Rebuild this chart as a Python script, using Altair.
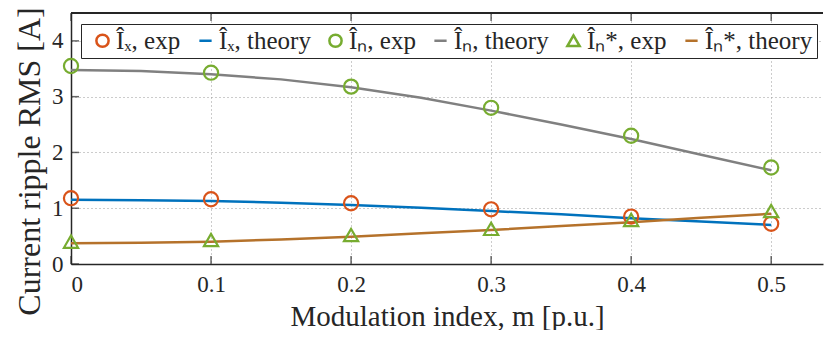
import altair as alt
import pandas as pd

# experimental points
m_exp = [0.0, 0.1, 0.2, 0.3, 0.4, 0.5]
ix_exp = [1.18, 1.16, 1.09, 0.98, 0.85, 0.72]
in_exp = [3.55, 3.43, 3.18, 2.80, 2.30, 1.73]
ins_exp = [0.40, 0.43, 0.52, 0.63, 0.79, 0.95]

# theory curves
m_th = [0.0, 0.05, 0.1, 0.15, 0.2, 0.25, 0.3, 0.35, 0.4, 0.45, 0.5]
ix_th = [1.15, 1.145, 1.13, 1.10, 1.06, 1.01, 0.95, 0.89, 0.82, 0.76, 0.70]
in_th = [3.48, 3.46, 3.40, 3.31, 3.17, 2.98, 2.75, 2.50, 2.24, 1.96, 1.68]
ins_th = [0.37, 0.38, 0.40, 0.44, 0.49, 0.55, 0.61, 0.68, 0.75, 0.83, 0.90]

names = ["Îₓ, exp", "Îₓ, theory", "Îₙ, exp", "Îₙ, theory", "Îₙ*, exp", "Îₙ*, theory"]
colors = ["#D95319", "#0072BD", "#77AC30", "#808080", "#77AC30", "#B5722B"]
shapes = ["circle", "stroke", "circle", "stroke", "triangle-up", "stroke"]
x_ticks = [0, 0.1, 0.2, 0.3, 0.4, 0.5]
y_ticks = [0, 1, 2, 3, 4]

rows = []
for v, a, b, c in zip(m_exp, ix_exp, in_exp, ins_exp):
    rows += [dict(m=v, val=a, s=names[0], kind="exp"),
             dict(m=v, val=b, s=names[2], kind="exp"),
             dict(m=v, val=c, s=names[4], kind="exp")]
for v, a, b, c in zip(m_th, ix_th, in_th, ins_th):
    rows += [dict(m=v, val=a, s=names[1], kind="th"),
             dict(m=v, val=b, s=names[3], kind="th"),
             dict(m=v, val=c, s=names[5], kind="th")]
df = pd.DataFrame(rows)
xt = pd.DataFrame({"m": x_ticks})
yt = pd.DataFrame({"val": y_ticks})

FONT = "Liberation Serif, Times New Roman, Times, Nimbus Roman, serif"
W, H = 752, 251
DARK = "#262626"

xsc = alt.Scale(domain=[0, 0.537], nice=False)
ysc = alt.Scale(domain=[0, 4.5], nice=False)
xs = alt.X("m:Q", scale=xsc,
           axis=alt.Axis(values=x_ticks, title="Modulation index, m [p.u.]", format=".1~f"))
ys = alt.Y("val:Q", scale=ysc,
           axis=alt.Axis(values=y_ticks, title="Current ripple RMS [A]", format="d"))
col = alt.Color("s:N", scale=alt.Scale(domain=names, range=colors),
                legend=alt.Legend(title=None, orient="none", direction="horizontal", columns=6,
                                  legendX=10, legendY=11, strokeColor=DARK, fillColor="white",
                                  padding=4, columnPadding=7, symbolSize=150, symbolStrokeWidth=2.5,
                                  labelFont=FONT, labelFontSize=25, labelColor=DARK,
                                  symbolOffset=5, labelOffset=1, labelLimit=300))
shp = alt.Shape("s:N", scale=alt.Scale(domain=names, range=shapes))

base = alt.Chart(df)
lines = base.transform_filter(alt.datum.kind == "th").mark_line(strokeWidth=2.5).encode(
    x=xs, y=ys, color=col, detail="s:N")
pts = base.transform_filter(alt.datum.kind == "exp").mark_point(
    filled=False, size=200, strokeWidth=2.2, opacity=1).encode(x=xs, y=ys, color=col, shape=shp)

# inward MATLAB-style ticks
xtick_b = alt.Chart(xt).mark_tick(orient="vertical", size=8, thickness=1.5, color=DARK).encode(
    x=alt.X("m:Q", scale=xsc), y=alt.value(H - 4))
xtick_t = alt.Chart(xt).mark_tick(orient="vertical", size=8, thickness=1.5, color=DARK).encode(
    x=alt.X("m:Q", scale=xsc), y=alt.value(4))
ytick_l = alt.Chart(yt).mark_tick(orient="horizontal", size=8, thickness=1.5, color=DARK).encode(
    y=alt.Y("val:Q", scale=ysc), x=alt.value(4))
topline = alt.Chart(xt).mark_rule(color=DARK, strokeWidth=1.5).encode(
    x=alt.value(0), x2=alt.value(W), y=alt.value(0))

chart = alt.layer(lines, pts, xtick_b, xtick_t, ytick_l, topline).properties(
    width=W, height=H, autosize=alt.AutoSizeParams(type="none"),
    padding={"left": 63, "top": 5, "right": 2, "bottom": 66}
).configure_view(stroke=None).configure_axis(
    labelFont=FONT, titleFont=FONT, labelFontSize=23, titleFontWeight="normal",
    labelColor=DARK, titleColor=DARK, domainColor=DARK, domainWidth=1.5,
    gridColor="#999999", gridDash=[1, 3], gridWidth=1, ticks=False
).configure_axisX(labelPadding=9, titleFontSize=29, titleBaseline="alphabetic", titleY=61
).configure_axisY(labelPadding=8, titleFontSize=32, titleBaseline="alphabetic",
                  titleX=-32, titleY=148)

chart.save("out.html", embed_options={"renderer": "svg", "actions": False})
